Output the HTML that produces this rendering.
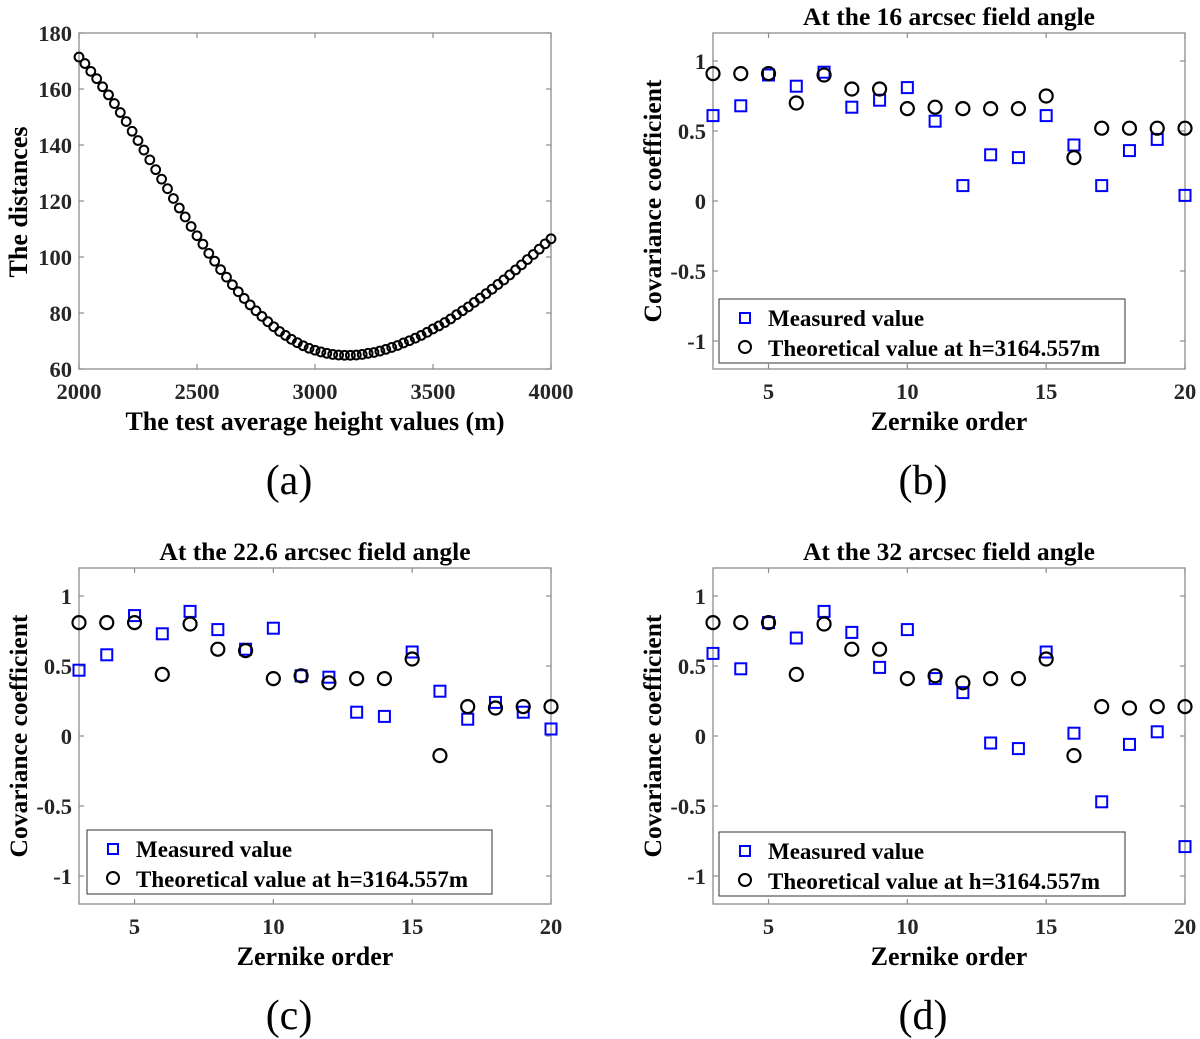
<!DOCTYPE html>
<html><head><meta charset="utf-8">
<style>
html,body{margin:0;padding:0;background:#fff;}
svg{display:block;font-family:"Liberation Serif",serif;}
</style></head>
<body>
<svg id="fig" width="1200" height="1039" viewBox="0 0 1200 1039"></svg>
<script>
// Panel (a) data
const heightsA = [];
for (let i = 0; i <= 80; i++) heightsA.push(2000 + 25 * i);
const distancesA = [171.4,169.1,166.3,163.7,160.8,157.9,154.8,151.6,148.4,144.9,141.6,138.2,134.7,131.2,127.8,124.4,120.9,117.5,114.3,110.9,107.6,104.6,101.3,98.5,95.5,92.8,90.1,87.6,85.2,82.9,80.8,78.8,76.9,75.1,73.4,72.0,70.6,69.4,68.3,67.4,66.7,66.1,65.6,65.2,65.0,64.9,64.9,65.0,65.2,65.6,65.9,66.4,67.0,67.7,68.4,69.3,70.1,71.0,72.0,73.1,74.3,75.4,76.6,77.9,79.4,80.8,82.2,83.8,85.3,86.9,88.5,90.2,91.8,93.6,95.4,97.2,99.1,100.9,102.8,104.7,106.5];
const xTicksA = [2000,2500,3000,3500,4000];
const yTicksA = [60,80,100,120,140,160,180];

// Zernike panels
const orders = [3,4,5,6,7,8,9,10,11,12,13,14,15,16,17,18,19,20];
const measuredB = [0.61,0.68,0.90,0.82,0.92,0.67,0.72,0.81,0.57,0.11,0.33,0.31,0.61,0.40,0.11,0.36,0.44,0.04];
const theoryB   = [0.91,0.91,0.91,0.70,0.90,0.80,0.80,0.66,0.67,0.66,0.66,0.66,0.75,0.31,0.52,0.52,0.52,0.52];
const measuredC = [0.47,0.58,0.86,0.73,0.89,0.76,0.62,0.77,0.43,0.42,0.17,0.14,0.60,0.32,0.12,0.24,0.17,0.05];
const theoryC   = [0.81,0.81,0.81,0.44,0.80,0.62,0.61,0.41,0.43,0.38,0.41,0.41,0.55,-0.14,0.21,0.20,0.21,0.21];
const measuredD = [0.59,0.48,0.81,0.70,0.89,0.74,0.49,0.76,0.41,0.31,-0.05,-0.09,0.60,0.02,-0.47,-0.06,0.03,-0.79];
const theoryD   = [0.81,0.81,0.81,0.44,0.80,0.62,0.62,0.41,0.43,0.38,0.41,0.41,0.55,-0.14,0.21,0.20,0.21,0.21];
const xTicksZ = [5,10,15,20];
const yTicksZ = [-1,-0.5,0,0.5,1];
const yTickLabelsZ = ['-1','-0.5','0','0.5','1'];

const NS = 'http://www.w3.org/2000/svg';
const svg = document.getElementById('fig');
function mk(tag, attrs, parent, text) {
  const e = document.createElementNS(NS, tag);
  for (const k in attrs) e.setAttribute(k, attrs[k]);
  if (text !== undefined) e.textContent = text;
  (parent || svg).appendChild(e);
  return e;
}

function axesBox(g, L, T, R, B, xTicks, xLabels, yTicks, yLabels, sx, sy) {
  const frame = mk('rect', {x:L, y:T, width:R-L, height:B-T, fill:'none', stroke:'#8c8c8c', 'stroke-width':1.3}, g);
  
  
  xTicks.forEach((v, i) => {
    const x = sx(v);
    mk('line', {x1:x, y1:B, x2:x, y2:B-5, stroke:'#8c8c8c', 'stroke-width':1.2}, g);
    mk('line', {x1:x, y1:T, x2:x, y2:T+5, stroke:'#8c8c8c', 'stroke-width':1.2}, g);
    const t = mk('text', {x:x, y:B+30, 'text-anchor':'middle', 'font-size':22.5, 'font-weight':'bold', fill:'#262626'}, g, xLabels[i]);
    
    
  });
  yTicks.forEach((v, i) => {
    const y = sy(v);
    mk('line', {x1:L, y1:y, x2:L+5, y2:y, stroke:'#8c8c8c', 'stroke-width':1.2}, g);
    mk('line', {x1:R, y1:y, x2:R-5, y2:y, stroke:'#8c8c8c', 'stroke-width':1.2}, g);
    const t = mk('text', {x:L-7, y:y+8, 'text-anchor':'end', 'font-size':22.5, 'font-weight':'bold', fill:'#262626'}, g, yLabels[i]);
    
    
  });
}

// ---- Panel (a)
(function(){
  const g = mk('g', {});
  
  
  const L=79, R=551, T=33, B=369;
  const sx = v => L + (v-2000)/2000*(R-L);
  const sy = v => B - (v-60)/120*(B-T);
  axesBox(g, L, T, R, B, xTicksA, xTicksA.map(String), yTicksA, yTicksA.map(String), sx, sy);
  heightsA.forEach((h, i) => {
    const c = mk('circle', {cx:sx(h), cy:sy(distancesA[i]), r:4.4, fill:'none', stroke:'#000', 'stroke-width':2}, g);
    
    
  });
  const xl = mk('text', {x:315, y:430, 'text-anchor':'middle', 'font-size':26, 'font-weight':'bold'}, g, 'The test average height values (m)');
  
  
  const yl = mk('text', {x:0, y:0, transform:'translate(27,202) rotate(-90)', 'text-anchor':'middle', 'font-size':26, 'font-weight':'bold', 'xml:space':'preserve'}, g, 'The  distances');
  
  
  const pl = mk('text', {x:289, y:494, 'text-anchor':'middle', 'font-size':42}, g, '(a)');
  
  
})();

function zernikePanel(name, L, T, title, measured, theory, legL, legT, legW, label) {
  const g = mk('g', {});
  
  
  const R = L + 472, B = T + 336;
  const sx = v => L + (v-3)/17*(R-L);
  const sy = v => (T+B)/2 - v/1.2*(B-T)/2;
  axesBox(g, L, T, R, B, xTicksZ, xTicksZ.map(String), yTicksZ, yTickLabelsZ, sx, sy);
  orders.forEach((o, i) => {
    const s = mk('rect', {x:sx(o)-5.5, y:sy(measured[i])-5.5, width:11, height:11, fill:'none', stroke:'#0000ff', 'stroke-width':2}, g);
    
    
  });
  orders.forEach((o, i) => {
    const c = mk('circle', {cx:sx(o), cy:sy(theory[i]), r:6.5, fill:'none', stroke:'#000', 'stroke-width':2.2}, g);
    
    
  });
  const tt = mk('text', {x:(L+R)/2, y:T-8, 'text-anchor':'middle', 'font-size':25.5, 'font-weight':'bold'}, g, title);
  
  
  const xl = mk('text', {x:(L+R)/2, y:B+61, 'text-anchor':'middle', 'font-size':26, 'font-weight':'bold'}, g, 'Zernike order');
  
  
  const yl = mk('text', {x:0, y:0, transform:'translate('+(L-52)+','+((T+B)/2)+') rotate(-90)', 'text-anchor':'middle', 'font-size':25.5, 'font-weight':'bold'}, g, 'Covariance coefficient');
  
  
  const lg = mk('g', {}, g);
  
  
  mk('rect', {x:legL, y:legT, width:legW, height:64, fill:'#fff', stroke:'#333', 'stroke-width':1}, lg);
  mk('rect', {x:legL+21, y:legT+14, width:10, height:10, fill:'none', stroke:'#0000ff', 'stroke-width':2}, lg);
  const l1 = mk('text', {x:legL+49, y:legT+27, 'font-size':23, 'font-weight':'bold'}, lg, 'Measured value');
  
  
  mk('circle', {cx:legL+26, cy:legT+48, r:6, fill:'none', stroke:'#000', 'stroke-width':2}, lg);
  const l2 = mk('text', {x:legL+49, y:legT+57, 'font-size':23, 'font-weight':'bold'}, lg, 'Theoretical value at h=3164.557m');
  
  
  const pl = mk('text', {x:(L+R)/2-26, y:B+125, 'text-anchor':'middle', 'font-size':42}, g, label);
  
  
}
zernikePanel('panel-b-16-arcsec', 713, 33, 'At the 16 arcsec field angle', measuredB, theoryB, 719, 299, 406, '(b)');
zernikePanel('panel-c-22-6-arcsec', 79, 568, 'At the 22.6 arcsec field angle', measuredC, theoryC, 87, 830, 405, '(c)');
zernikePanel('panel-d-32-arcsec', 713, 568, 'At the 32 arcsec field angle', measuredD, theoryD, 719, 832, 406, '(d)');
</script>
</body></html>
